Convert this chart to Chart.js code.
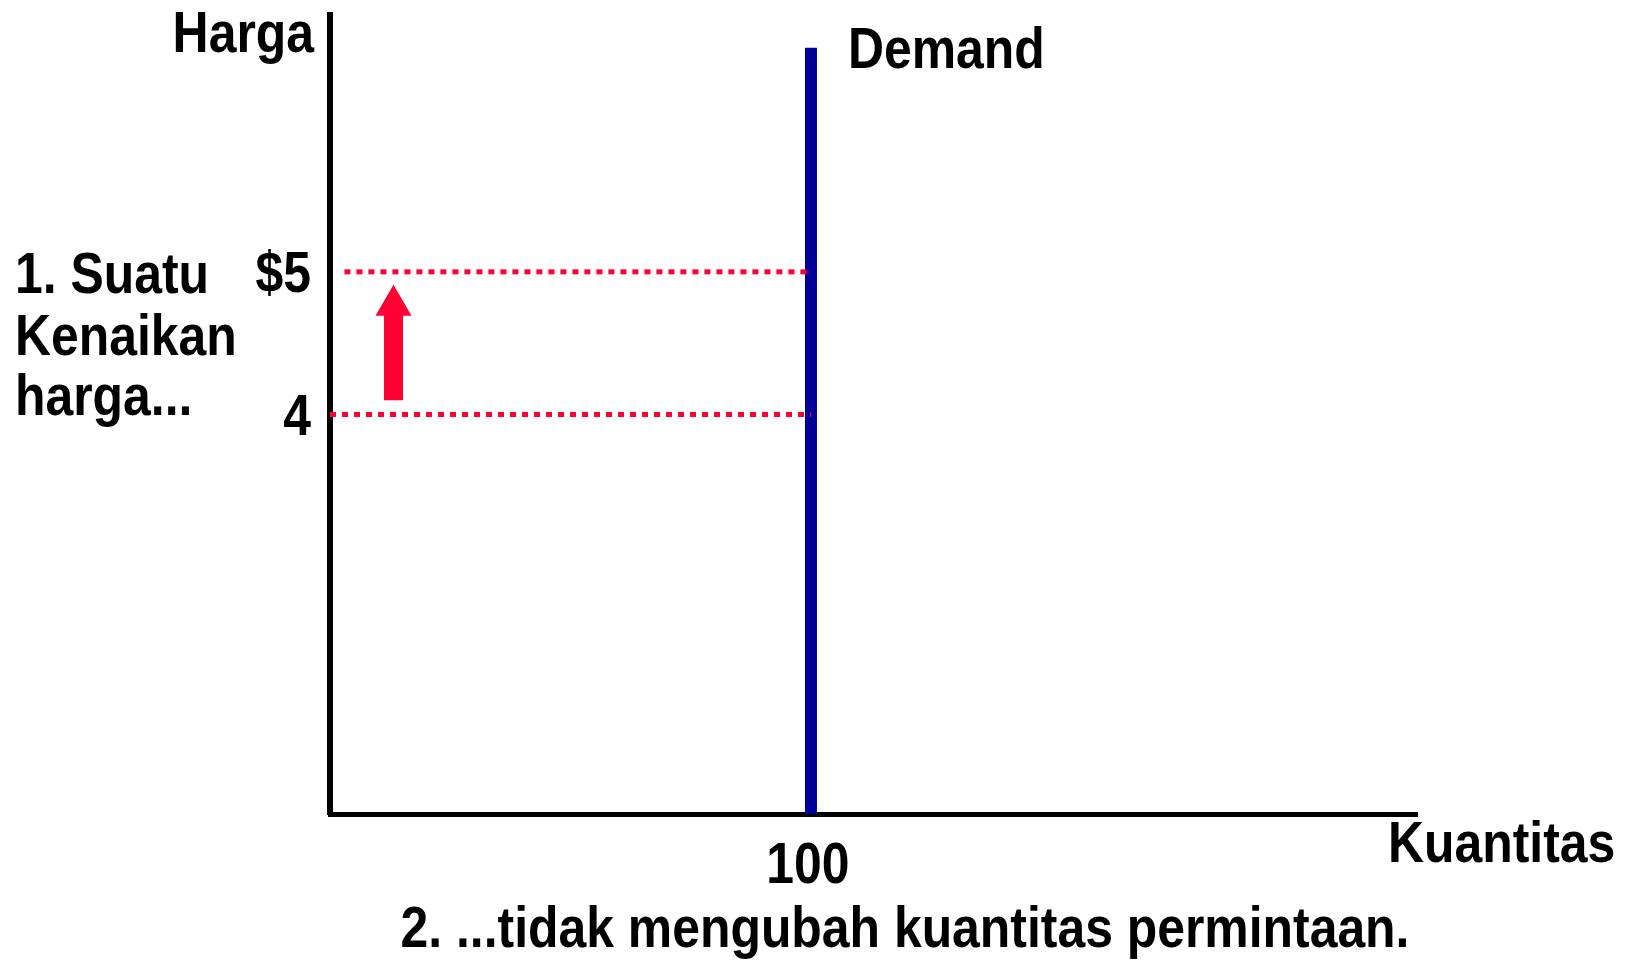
<!DOCTYPE html>
<html>
<head>
<meta charset="utf-8">
<script src="https://cdn.jsdelivr.net/npm/chart.js@4/dist/chart.umd.min.js"></script>
<style>
html,body{margin:0;padding:0;background:#fff;}
#wrap{width:1627px;height:960px;position:relative;}
</style>
</head>
<body>
<div id="wrap"><canvas id="c"></canvas></div>
<script>
// ---- data ----
const demandQuantity = [100, 100];
const demandPrice = [1.2, 6.57];
const priceLevels = [5, 4];
const priceLineStartQ = [3, 0];
const yTickValues = [4, 5];
const yTickLabels = ['4', '$5'];
const xTickValues = [100];
const xTickLabels = ['100'];
const arrowQ = 13.2;
const arrowFrom = 4.1;
const arrowTo = 4.91;

const FONT = '"Liberation Sans", Arial, sans-serif';
const NARROW = 0.86;
const RED = '#ff0033';
const NAVY = '#000099';

const datasets = [];
priceLevels.forEach((p, i) => {
  datasets.push({
    data: [{x: priceLineStartQ[i], y: p}, {x: demandQuantity[0], y: p}],
    borderColor: RED, borderWidth: 5, borderDash: [6, 6], pointRadius: 0, showLine: true, fill: false
  });
});
datasets.push({
  data: demandQuantity.map((q, i) => ({x: q, y: demandPrice[i]})),
  borderColor: NAVY, borderWidth: 12, pointRadius: 0, showLine: true, fill: false, borderCapStyle: 'butt'
});

function narrowText(ctx, text, x, y, align) {
  ctx.save();
  ctx.translate(x, y);
  ctx.scale(NARROW, 1);
  ctx.textAlign = align;
  ctx.textBaseline = 'alphabetic';
  ctx.fillText(text, 0, 0);
  ctx.restore();
}

const extras = {
  id: 'extras',
  afterDatasetsDraw(chart) {
    const {ctx, scales: {x, y}} = chart;
    // arrow
    const ax = x.getPixelForValue(arrowQ);
    const y0 = y.getPixelForValue(arrowFrom);
    const y1 = y.getPixelForValue(arrowTo);
    const headLen = 31, shaftW = 19, headW = 36;
    ctx.save();
    ctx.fillStyle = RED;
    ctx.beginPath();
    ctx.moveTo(ax - shaftW / 2, y0);
    ctx.lineTo(ax - shaftW / 2, y1 + headLen);
    ctx.lineTo(ax - headW / 2, y1 + headLen);
    ctx.lineTo(ax, y1);
    ctx.lineTo(ax + headW / 2, y1 + headLen);
    ctx.lineTo(ax + shaftW / 2, y1 + headLen);
    ctx.lineTo(ax + shaftW / 2, y0);
    ctx.closePath();
    ctx.fill();
    ctx.restore();
  },
  afterDraw(chart) {
    const {ctx, scales: {x, y}, chartArea} = chart;
    ctx.save();
    ctx.fillStyle = '#000';
    ctx.font = 'bold 58px ' + FONT;
    // tick labels (narrow), positioned through the scales
    yTickValues.forEach((v, i) => {
      narrowText(ctx, yTickLabels[i], chartArea.left - 19, y.getPixelForValue(v) + 20, 'right');
    });
    xTickValues.forEach((v, i) => {
      narrowText(ctx, xTickLabels[i], x.getPixelForValue(v) - 3, chartArea.bottom + 69, 'center');
    });
    narrowText(ctx, 'Harga', 314, 52, 'right');
    narrowText(ctx, 'Demand', 848, 68, 'left');
    narrowText(ctx, '1. Suatu', 15, 293, 'left');
    narrowText(ctx, 'Kenaikan', 15, 355, 'left');
    narrowText(ctx, 'harga...', 15, 415, 'left');
    narrowText(ctx, 'Kuantitas', 1388, 862, 'left');
    narrowText(ctx, '2. ...tidak mengubah kuantitas permintaan.', 905, 947, 'center');
    ctx.restore();
  }
};

new Chart(document.getElementById('c'), {
  type: 'scatter',
  data: {datasets},
  options: {
    responsive: true,
    maintainAspectRatio: false,
    animation: false,
    layout: {padding: {top: 15, right: 210, left: 0, bottom: 0}},
    plugins: {legend: {display: false}, tooltip: {enabled: false}},
    scales: {
      x: {
        type: 'linear', min: 0, max: 226,
        grid: {display: false},
        border: {display: true, color: '#000', width: 5},
        afterBuildTicks: (s) => { s.ticks = xTickValues.map(v => ({value: v})); },
        afterFit: (s) => { s.height = 146; s.paddingLeft = 0; s.paddingRight = 0; },
        ticks: {display: false}
      },
      y: {
        type: 'linear', min: 1.2, max: 6.8,
        grid: {display: false},
        border: {display: true, color: '#000', width: 6},
        afterBuildTicks: (s) => { s.ticks = yTickValues.map(v => ({value: v})); },
        afterFit: (s) => { s.width = 330; s.paddingTop = 0; s.paddingBottom = 0; },
        ticks: {display: false}
      }
    }
  },
  plugins: [extras]
});
</script>
</body>
</html>
